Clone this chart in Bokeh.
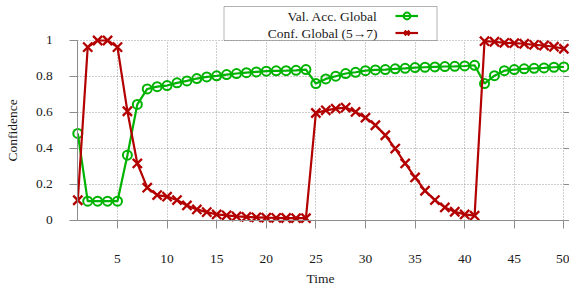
from bokeh.plotting import figure
from bokeh.models import (LinearAxis, FixedTicker, NumeralTickFormatter, Range1d,
                          Legend, LegendItem, Label, BoxAnnotation)
from bokeh.embed import file_html
from bokeh.resources import INLINE

# ---------------- data ----------------
time = list(range(1, 51))
val_acc_global = [0.482, 0.105, 0.105, 0.105, 0.105, 0.361, 0.644, 0.730, 0.743, 0.749,
                  0.764, 0.775, 0.788, 0.797, 0.803, 0.810, 0.816, 0.821, 0.825, 0.829,
                  0.831, 0.832, 0.834, 0.838, 0.760, 0.786, 0.801, 0.816, 0.823, 0.832,
                  0.836, 0.838, 0.842, 0.845, 0.849, 0.851, 0.853, 0.855, 0.856, 0.858,
                  0.862, 0.760, 0.804, 0.832, 0.838, 0.842, 0.845, 0.847, 0.851, 0.853]
conf_global = [0.110, 0.963, 1.000, 1.000, 0.963, 0.606, 0.315, 0.180, 0.139, 0.130,
               0.111, 0.081, 0.059, 0.044, 0.031, 0.026, 0.020, 0.017, 0.015, 0.013,
               0.012, 0.011, 0.010, 0.010, 0.596, 0.611, 0.620, 0.626, 0.602, 0.570,
               0.528, 0.472, 0.398, 0.315, 0.237, 0.163, 0.111, 0.070, 0.046, 0.031,
               0.024, 0.996, 0.993, 0.987, 0.985, 0.982, 0.976, 0.972, 0.965, 0.954]
x_ticks = [5, 10, 15, 20, 25, 30, 35, 40, 45, 50]
y_ticks = [0, 0.2, 0.4, 0.6, 0.8, 1]
series_labels = ["Val. Acc. Global", "Conf. Global (5\u21927)"]
x_title = "Time"
y_title = "Confidence"

# ---------------- style ----------------
GREEN = "#00b300"
RED = "#b30000"
AX = "#8c8c8c"
TXT = "#1a1a1a"
FONT = "Liberation Serif"
FS = "13.5px"

# the frame covers the whole canvas so that the in-plot axes are never clipped
p = figure(width=569, height=288, output_backend="svg", toolbar_location=None,
           x_range=Range1d(-6.792, 50.567), y_range=Range1d(-0.3816, 1.2228),
           min_border_left=0, min_border_right=0, min_border_top=0, min_border_bottom=0)
p.outline_line_color = None
p.background_fill_color = "white"
p.border_fill_color = "white"

# bottom axis drawn at y = 0
xa = p.xaxis[0]
xa.fixed_location = 0
xa.bounds = (1, 50)
xa.ticker = FixedTicker(ticks=x_ticks)
xa.major_tick_out = 8
xa.major_tick_in = 0
xa.minor_tick_out = 0
xa.minor_tick_in = 0
xa.axis_line_color = AX
xa.major_tick_line_color = AX
xa.major_label_standoff = 27
xa.major_label_text_font = FONT
xa.major_label_text_font_size = FS
xa.major_label_text_color = TXT
xa.axis_label = x_title
xa.axis_label_standoff = 4
xa.axis_label_text_font = FONT
xa.axis_label_text_font_size = FS
xa.axis_label_text_font_style = "normal"
xa.axis_label_text_color = TXT

# left axis drawn at x = 1
ya = p.yaxis[0]
ya.fixed_location = 1
ya.bounds = (0, 1)
ya.ticker = FixedTicker(ticks=y_ticks)
ya.formatter = NumeralTickFormatter(format="0.[0]")
ya.major_tick_out = 8
ya.major_tick_in = 0
ya.minor_tick_out = 0
ya.minor_tick_in = 0
ya.axis_line_color = AX
ya.major_tick_line_color = AX
ya.major_label_standoff = 17
ya.major_label_text_font = FONT
ya.major_label_text_font_size = FS
ya.major_label_text_color = TXT
ya.axis_label = y_title
ya.axis_label_standoff = 13
ya.axis_label_text_font = FONT
ya.axis_label_text_font_size = FS
ya.axis_label_text_font_style = "normal"
ya.axis_label_text_color = TXT

# right mirror ticks at x = 50 (no labels)
ra = LinearAxis(fixed_location=50, bounds=(0, 1), ticker=FixedTicker(ticks=y_ticks),
                major_tick_out=6, major_tick_in=0, minor_tick_out=0, minor_tick_in=0,
                axis_line_color=None, major_tick_line_color=AX,
                major_label_overrides={t: "" for t in y_ticks}, major_label_standoff=0)
p.add_layout(ra, "right")

# grids (dotted, limited to the axis box)
p.xgrid.ticker = FixedTicker(ticks=x_ticks)
p.xgrid.bounds = (1, 50)
p.xgrid.cross_bounds = (0, 1)
p.ygrid.ticker = FixedTicker(ticks=y_ticks[1:])
p.ygrid.bounds = (0, 1)
p.ygrid.cross_bounds = (1, 50)
for g in (p.xgrid, p.ygrid):
    g.grid_line_color = "#9a9a9a"
    g.grid_line_dash = "1 2"
    g.grid_line_width = 1

# series
g_line = p.line(time, val_acc_global, line_color=GREEN, line_width=2.2)
g_pts = p.scatter(time, val_acc_global, marker="circle", size=9, line_color=GREEN,
                  line_width=2, fill_color=None)
r_line = p.line(time, conf_global, line_color=RED, line_width=2.2)
r_pts = p.scatter(time, conf_global, marker="x", size=13, line_color=RED, line_width=2.3)

# legend: framed box, right-aligned texts, glyphs on the right
box = BoxAnnotation(left=223.5, right=436.5, bottom=248, top=282,
                    left_units="screen", right_units="screen",
                    bottom_units="screen", top_units="screen",
                    fill_color="white", fill_alpha=1.0, line_color="black", line_width=1,
                    level="annotation")
p.add_layout(box)

leg = Legend(items=[LegendItem(label=" ", renderers=[g_line, g_pts]),
                    LegendItem(label=" ", renderers=[r_line, r_pts])],
             location=(395, 247.5), glyph_width=23, glyph_height=17, label_height=17,
             label_width=0, label_standoff=0, spacing=0, padding=0, margin=0,
             border_line_color=None, background_fill_alpha=0,
             label_text_font_size="1px")
p.add_layout(leg)

for lab, yy in zip(series_labels, [272, 255]):
    p.add_layout(Label(x=377, y=yy, x_units="screen", y_units="screen", text=lab,
                       text_align="right", text_baseline="middle", text_font=FONT,
                       text_font_size=FS, text_color=TXT))

open("out.html", "w").write(file_html(p, INLINE))
